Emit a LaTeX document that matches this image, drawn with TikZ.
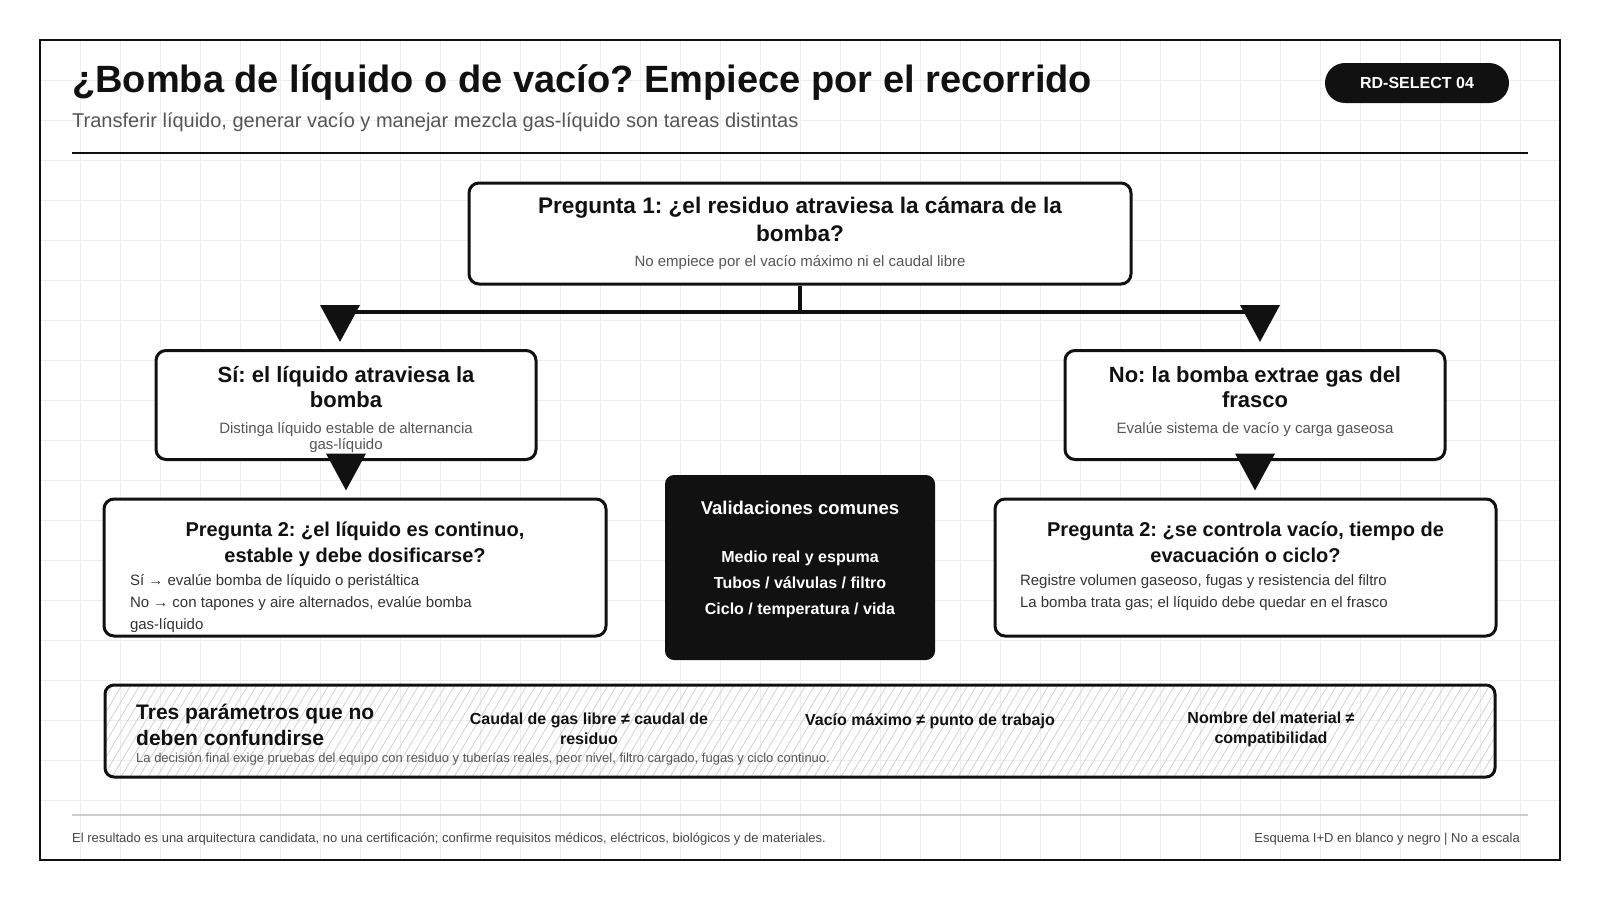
\documentclass[tikz,border=0pt]{standalone}
\usepackage{fontspec}
\setmainfont{Liberation Sans}
\usepackage{tikz}
\usetikzlibrary{positioning, arrows.meta, calc}
\setlength{\parindent}{0pt}
\frenchspacing
\definecolor{ink}{HTML}{111111}
\definecolor{subgray}{HTML}{555555}
\definecolor{bodygray}{HTML}{333333}
\definecolor{footgray}{HTML}{444444}
\definecolor{gridgray}{HTML}{EEEEEE}
\definecolor{hatchgray}{HTML}{CDCDCD}
\definecolor{rulegray}{HTML}{CCCCCC}
\newcommand{\headsize}[2]{\bfseries\fontsize{#1}{#2}\selectfont\spaceskip=0pt\xspaceskip=0pt}
\newcommand{\plainsize}[2]{\fontsize{#1}{#2}\selectfont\spaceskip=0pt\xspaceskip=0pt}
\tikzstyle{qbox} = [draw=ink, line width=3pt, fill=white,
rounded corners=10pt,
inner sep=0pt, text=ink]
\tikzstyle{darkbox} = [fill=ink, rounded corners=9pt,
text=white, font=\bfseries,
inner sep=0pt]
\tikzstyle{pill} = [fill=ink, rounded corners=20pt, text=white,
minimum width=184pt, minimum height=40pt,
font=\fontsize{16}{19}\selectfont\bfseries, inner sep=0pt]
\tikzstyle{flow} = [draw=ink, line width=4pt,
-{Triangle[length=37pt, width=39pt]}, shorten >=7pt]

\begin{document}
\begin{tikzpicture}[x=1pt, y=-1pt]
	\useasboundingbox (0,0) rectangle (1600,900);
	%% Grid and frame
	\foreach \gx in {80,120,...,1520}
		\draw[gridgray, line width=1pt] (\gx,40) -- (\gx,860);
	\foreach \gy in {80,120,...,820}
		\draw[gridgray, line width=1pt] (40,\gy) -- (1560,\gy);
	\draw[ink, line width=2.5pt] (40,40) rectangle (1560,860);
	%% Header
	\node[anchor=base west, inner sep=0pt, text=ink,
		font=\fontsize{38}{44}\selectfont\bfseries] (title) at (72,92)
		{¿Bomba de líquido o de vacío? Empiece por el recorrido};
	\node[anchor=base west, inner sep=0pt, text=subgray,
		font=\fontsize{20}{24}\selectfont] (subtitle) at (72,127)
		{Transferir líquido, generar vacío y manejar mezcla gas-líquido son tareas distintas};
	\node[pill] (tag) at (1417,83) {RD-SELECT 04};
	\draw[ink, line width=2pt] (72,153) -- (1528,153);
	%% Question 1
	\node[qbox, minimum width=662pt, minimum height=101pt, text width=620pt] (q1) at (800,233.5) {\centering
		{\headsize{22.6}{28} Pregunta 1: ¿el residuo atraviesa la cámara de la\\ bomba?\par}
		\vspace{7.5pt}
		{\plainsize{15}{18}\color{subgray} No empiece por el vacío máximo ni el caudal libre\par}
	};
	%% Answers
	\node[qbox, minimum width=380pt, minimum height=109pt, text width=360pt] (si) at (346,405) {\centering
		{\headsize{22}{25} Sí: el líquido atraviesa la\\ bomba\par}
		\vspace{9.5pt}
		{\plainsize{15}{16}\color{subgray} Distinga líquido estable de alternancia\\ gas-líquido\par}
		\vspace{-9pt}
	};
	\node[qbox, minimum width=380pt, minimum height=109pt, text width=360pt] (no) at (1255,405) {\centering
		{\headsize{22}{25} No: la bomba extrae gas del\\ frasco\par}
		\vspace{9.5pt}
		{\plainsize{15}{16}\color{subgray} Evalúe sistema de vacío y carga gaseosa\par}
		\vspace{7pt}
	};
	%% Second questions
	\node[qbox, minimum width=502pt, minimum height=137pt, text width=450pt] (q2si) at (355,567.5) {\centering
		{\headsize{20}{26} Pregunta 2: ¿el líquido es continuo,\\ estable y debe dosificarse?\par}
		\vspace{1pt}
		{\raggedright\plainsize{15}{22}\color{bodygray}
		Sí → evalúe bomba de líquido o peristáltica\\
		No → con tapones y aire alternados, evalúe bomba\\
		gas-líquido\par}
		\vspace{-19pt}
	};
	\node[qbox, minimum width=501pt, minimum height=137pt, text width=451pt] (q2no) at (1245.5,567.5) {\centering
		{\headsize{20}{26} Pregunta 2: ¿se controla vacío, tiempo de\\ evacuación o ciclo?\par}
		\vspace{1pt}
		{\raggedright\plainsize{15}{22}\color{bodygray}
		Registre volumen gaseoso, fugas y resistencia del filtro\\
		La bomba trata gas; el líquido debe quedar en el frasco\par}
		\vspace{3pt}
	};
	%% Common checks
	\node[darkbox, minimum width=270pt, minimum height=185pt, text width=250pt] (valid) at (800,567.5) {\centering
		{\headsize{18.5}{22} Validaciones comunes\par}
		\vspace{22pt}
		{\headsize{16}{26} Medio real y espuma\\
		Tubos / válvulas / filtro\\
		Ciclo / temperatura / vida\par}
		\vspace{17pt}
	};
	%% Q1 to answers
	\coordinate (split) at (800,312);
	\draw[ink, line width=4pt] (q1.south) -- (split);
	\draw[flow] (split) -| ($(si.north)+(-6,0)$);
	\draw[flow] (split) -| ($(no.north)+(5,0)$);
	%% Answers to second questions
	\draw[flow] (si.south) -- (si.south |- q2si.north);
	\draw[flow] (no.south) -- (no.south |- q2no.north);
	%% Parameters strip
	\begin{scope}
		\clip[rounded corners=9pt] (105,685) rectangle (1495,777);
		\foreach \hx in {40,49,...,1500}
			\draw[hatchgray, line width=0.7pt] (\hx,777) -- ++(55,-92);
	\end{scope}
	\node[draw=ink, line width=3pt, rounded corners=9pt, inner sep=0pt,
		minimum width=1390pt, minimum height=92pt] (params) at (800,731) {};
	\node[anchor=west, align=left, inner sep=0pt, text=ink,
		font=\fontsize{21}{26}\selectfont\bfseries] (ptitle) at (136,725)
		{Tres parámetros que no\\ deben confundirse};
	\node[align=center, inner sep=0pt, text=ink,
		font=\fontsize{16}{20}\selectfont\bfseries] (pone) at (589,729)
		{Caudal de gas libre ≠ caudal de\\ residuo};
	\node[anchor=base, inner sep=0pt, text=ink,
		font=\fontsize{16}{20}\selectfont\bfseries] (ptwo) at (930,725)
		{Vacío máximo ≠ punto de trabajo};
	\node[align=center, inner sep=0pt, text=ink,
		font=\fontsize{16}{20}\selectfont\bfseries] (pthree) at (1271,729)
		{Nombre del material ≠\\ compatibilidad};
	\node[anchor=base west, inner sep=0pt, text=subgray,
		font=\fontsize{13}{15}\selectfont] (pnote) at (136,762)
		{La decisión final exige pruebas del equipo con residuo y tuberías reales, peor nivel, filtro cargado, fugas y ciclo continuo.};
	%% Footer
	\draw[rulegray, line width=2pt] (72,815) -- (1528,815);
	\node[anchor=base west, inner sep=0pt, text=footgray,
		font=\fontsize{13}{15}\selectfont] (footl) at (72,842)
		{El resultado es una arquitectura candidata, no una certificación; confirme requisitos médicos, eléctricos, biológicos y de materiales.};
	\node[anchor=base east, inner sep=0pt, text=footgray,
		font=\fontsize{13}{15}\selectfont] (footr) at (1520,842)
		{Esquema I+D en blanco y negro | No a escala};
\end{tikzpicture}
\end{document}
